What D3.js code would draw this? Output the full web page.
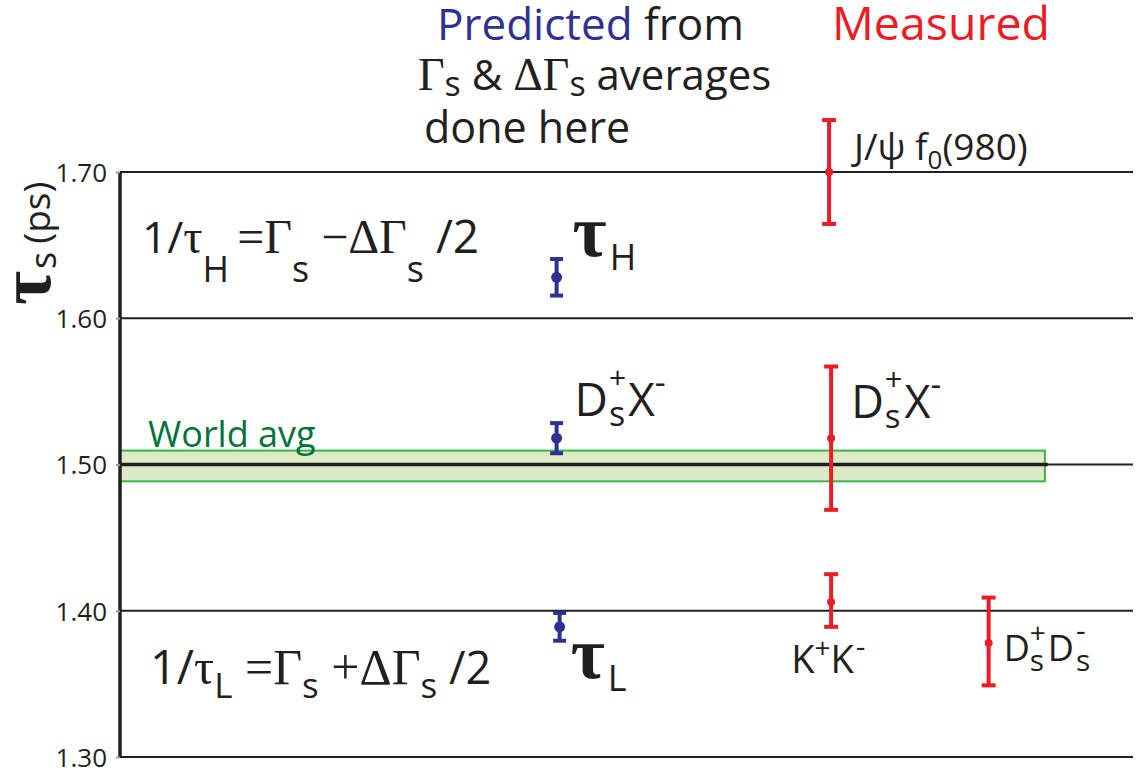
<!DOCTYPE html>
<html><head><meta charset="utf-8">
<script src="https://cdn.jsdelivr.net/npm/d3@7"></script>
<style>body{margin:0;background:#fff}</style>
</head><body>
<svg id="c" width="1142" height="771"></svg>
<script>
// ---- data ----
const yTicks = [1.30, 1.40, 1.50, 1.60, 1.70];
const predictedNames = ["tauH", "DsX", "tauL"];
const predictedX = [4.31, 4.31, 4.34];
const predictedValue = [1.628, 1.518, 1.389];
const predictedErr = [0.0125, 0.0103, 0.0095];
const measuredNames = ["Jpsif0", "DsX", "KK", "DsDs"];
const measuredX = [7.0, 7.02, 7.02, 8.575];
const measuredValue = [1.700, 1.518, 1.406, 1.378];
const measuredErrUp = [0.0355, 0.049, 0.019, 0.031];
const measuredErrDown = [0.0355, 0.049, 0.017, 0.029];
const worldAvg = 1.499;
const worldAvgErr = 0.0105;
const worldAvgXEnd = 9.13;

const BLUE = "#2e3192", RED = "#ed1c24", INK = "#231f20", GREEN = "#00733b";
const SANS = "'Open Sans', sans-serif", SERIF = "'Liberation Serif', serif";

const svg = d3.select("#c");
const x = d3.scaleLinear().domain([0, 10]).range([120, 1133]);
const y = d3.scaleLinear().domain([1.30, 1.70]).range([757, 172]);

// rich text helper: segments placed in sequence; 'stack' places a segment at the same x as the previous one
function rich(g, x0, y0, segs) {
  let cx = x0, prevX = x0;
  segs.forEach(s => {
    const px = s.stack ? prevX : cx + (s.dx || 0);
    const t = g.append("text")
      .attr("x", px).attr("y", y0 + (s.dy || 0))
      .attr("font-family", s.fam || SANS)
      .attr("font-size", s.size)
      .attr("font-weight", s.w || "normal")
      .attr("fill", s.fill || INK)
      .style("white-space", "pre")
      .text(s.t);
    const w = t.node().getComputedTextLength();
    if (s.stack) { cx = Math.max(cx, px + w); }
    else { prevX = px; cx = px + w; }
  });
  return g;
}

// world average band
svg.append("rect")
  .attr("x", x(0)).attr("width", x(worldAvgXEnd) - x(0))
  .attr("y", y(worldAvg + worldAvgErr)).attr("height", y(worldAvg - worldAvgErr) - y(worldAvg + worldAvgErr))
  .attr("fill", "#dcebc6").attr("stroke", "#3cb54a").attr("stroke-width", 2);

// gridlines
svg.append("g").selectAll("line").data(yTicks).join("line")
  .attr("x1", x(0)).attr("x2", x(10))
  .attr("y1", d => y(d)).attr("y2", d => y(d))
  .attr("stroke", INK).attr("stroke-width", 2);
svg.append("line").attr("x1", x(0)).attr("x2", x(worldAvgXEnd) + 3)
  .attr("y1", y(1.50)).attr("y2", y(1.50)).attr("stroke", INK).attr("stroke-width", 3.5);

// y axis
const ax = svg.append("g").attr("transform", `translate(${x(0)},0)`)
  .call(d3.axisLeft(y).tickValues(yTicks).tickFormat(d3.format(".2f")).tickSize(4).tickPadding(9));
ax.attr("font-size", 26).attr("font-family", SANS);
ax.select(".domain").attr("stroke", INK).attr("stroke-width", 3.5).attr("d", `M0,${y(1.70)}V${y(1.30)}`);
ax.selectAll(".tick line").attr("stroke", "#999").attr("stroke-width", 2);
ax.selectAll(".tick text").attr("fill", INK).attr("dy", "0.36em");

// y label
const yl = svg.append("g").attr("transform", "translate(50,305) rotate(-90)");
rich(yl, 0, 0, [
  {t: "τ", size: 74, fam: SERIF, w: "bold"},
  {t: "s", size: 36, dy: 6, dx: 2},
  {t: "(ps)", size: 37, dx: 8}
]);

// title block
const tt = svg.append("g");
rich(tt, 437, 40, [{t: "Predicted", size: 44, fill: BLUE}, {t: " from", size: 44}]);
rich(tt, 418, 90, [
  {t: "Γ", size: 46, fam: SERIF}, {t: "s", size: 34, dy: 6},
  {t: " & ", size: 42}, {t: "ΔΓ", size: 46, fam: SERIF}, {t: "s", size: 34, dy: 6},
  {t: " averages", size: 42}
]);
rich(tt, 424, 143, [{t: "done here", size: 43}]);
rich(tt, 832, 40, [{t: "Measured", size: 46.5, fill: RED}]);

// formulas
rich(svg.append("g"), 142, 253, [
  {t: "1/", size: 44}, {t: "τ", size: 48, fam: SERIF}, {t: "H", size: 36, dy: 29},
  {t: " =Γ", size: 48, fam: SERIF, dx: -4}, {t: "s", size: 36, dy: 29},
  {t: " −ΔΓ", size: 48, fam: SERIF}, {t: "s", size: 36, dy: 29}, {t: " /2", size: 46}
]);
rich(svg.append("g"), 150, 684, [
  {t: "1/", size: 47}, {t: "τ", size: 50, fam: SERIF}, {t: "L", size: 35, dy: 14},
  {t: " =Γ", size: 50, fam: SERIF}, {t: "s", size: 35, dy: 14},
  {t: " +ΔΓ", size: 50, fam: SERIF}, {t: "s", size: 35, dy: 14}, {t: " /2", size: 45}
]);

// world avg label
rich(svg.append("g"), 148, 447, [{t: "World avg", size: 36, fill: GREEN}]);

// error bars
function errBars(g, xs, vals, up, down, color, cap, r) {
  const idx = d3.range(vals.length);
  g.selectAll("line.v").data(idx).join("line").attr("class", "v")
    .attr("x1", i => x(xs[i])).attr("x2", i => x(xs[i]))
    .attr("y1", i => y(vals[i] + up[i])).attr("y2", i => y(vals[i] - down[i]))
    .attr("stroke", color).attr("stroke-width", 4);
  g.selectAll("line.t").data(idx).join("line").attr("class", "t")
    .attr("x1", i => x(xs[i]) - cap / 2).attr("x2", i => x(xs[i]) + cap / 2)
    .attr("y1", i => y(vals[i] + up[i])).attr("y2", i => y(vals[i] + up[i]))
    .attr("stroke", color).attr("stroke-width", 4);
  g.selectAll("line.b").data(idx).join("line").attr("class", "b")
    .attr("x1", i => x(xs[i]) - cap / 2).attr("x2", i => x(xs[i]) + cap / 2)
    .attr("y1", i => y(vals[i] - down[i])).attr("y2", i => y(vals[i] - down[i]))
    .attr("stroke", color).attr("stroke-width", 4);
  g.selectAll("circle").data(idx).join("circle")
    .attr("cx", i => x(xs[i])).attr("cy", i => y(vals[i])).attr("r", r).attr("fill", color);
}
errBars(svg.append("g"), predictedX, predictedValue, predictedErr, predictedErr, BLUE, 13, 5.5);
errBars(svg.append("g"), measuredX, measuredValue, measuredErrUp, measuredErrDown, RED, 14, 4);

// point labels
const PL = svg.append("g");
const px = i => x(predictedX[i]), py = i => y(predictedValue[i]);
rich(PL, px(0) + 16, py(0) - 21, [
  {t: "τ", size: 74, fam: SERIF, w: "bold"}, {t: "H", size: 36, dy: 14, dx: 3}
]);
rich(PL, px(1) + 18, py(1) - 22, [
  {t: "D", size: 46}, {t: "+", size: 30, dy: -28, dx: 1}, {t: "s", size: 34, dy: 10, stack: true},
  {t: "X", size: 46, dx: 2}, {t: "-", size: 34, dy: -22}
]);
rich(PL, px(2) + 11, py(2) + 51, [
  {t: "τ", size: 74, fam: SERIF, w: "bold"}, {t: "L", size: 36, dy: 13, dx: 3}
]);
const ML = svg.append("g");
const mx = i => x(measuredX[i]), my = i => y(measuredValue[i]);
rich(ML, mx(0) + 25, my(0) - 12, [
  {t: "J/ψ f", size: 37}, {t: "0", size: 26, dy: 9}, {t: "(980)", size: 37}
]);
rich(ML, mx(1) + 20, my(1) - 20, [
  {t: "D", size: 45}, {t: "+", size: 31, dy: -27, dx: 1}, {t: "s", size: 33, dy: 10, stack: true},
  {t: "X", size: 45, dx: 2}, {t: "-", size: 33, dy: -22}
]);
rich(ML, mx(2) - 40, my(2) + 71, [
  {t: "K", size: 38}, {t: "+", size: 28, dy: -15}, {t: "K", size: 38}, {t: "-", size: 30, dy: -16, dx: 2}
]);
rich(ML, mx(3) + 15, my(3) + 18, [
  {t: "D", size: 36}, {t: "+", size: 28, dy: -18}, {t: "s", size: 30, dy: 10, stack: true},
  {t: "D", size: 36, dx: 2}, {t: "-", size: 30, dy: -20, dx: 2}, {t: "s", size: 30, dy: 10, stack: true}
]);
</script>
</body></html>
